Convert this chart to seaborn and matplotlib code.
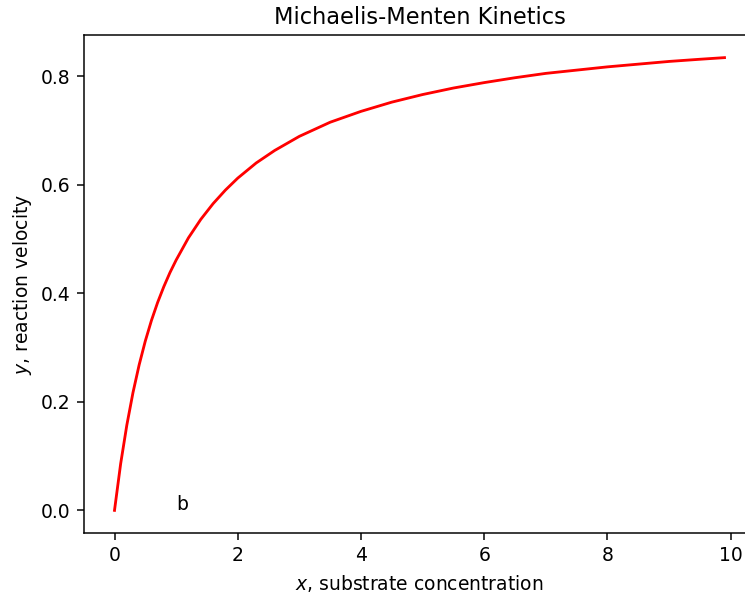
import matplotlib
matplotlib.use("Agg")
import matplotlib.pyplot as plt
import seaborn as sns
import pandas as pd

# Values
substrate = [0.0, 0.1, 0.2, 0.3, 0.4, 0.5, 0.6, 0.7, 0.8, 0.9, 1.0, 1.2, 1.4, 1.6, 1.8,
             2.0, 2.3, 2.6, 3.0, 3.5, 4.0, 4.5, 5.0, 5.5, 6.0, 6.5, 7.0, 7.5, 8.0, 8.5,
             9.0, 9.5, 9.9]
velocity = [0.0, 0.086, 0.157, 0.217, 0.268, 0.312, 0.350, 0.383, 0.412, 0.438, 0.461,
            0.502, 0.536, 0.565, 0.590, 0.612, 0.640, 0.663, 0.689, 0.715, 0.735, 0.752,
            0.766, 0.778, 0.788, 0.797, 0.805, 0.811, 0.817, 0.822, 0.827, 0.831, 0.834]

df = pd.DataFrame({"x": substrate, "y": velocity})

DPI = 135
W, H = 745, 596
fig = plt.figure(figsize=(W / DPI, H / DPI), dpi=DPI)
ax = fig.add_axes([84 / W, (H - 533) / H, (755 - 84) / W, (533 - 35) / H])

sns.lineplot(data=df, x="x", y="y", color="red", ax=ax, linewidth=1.5)
ax.text(1, 0, "b")
ax.set_title("Michaelis-Menten Kinetics")
ax.set_xlabel("$x$, substrate concentration")
ax.set_ylabel("$y$, reaction velocity")
ax.set_xticks([0, 2, 4, 6, 8, 10])
ax.set_yticks([0.0, 0.2, 0.4, 0.6, 0.8])
ax.spines["right"].set_visible(False)

fig.savefig("out.png", dpi=DPI)
